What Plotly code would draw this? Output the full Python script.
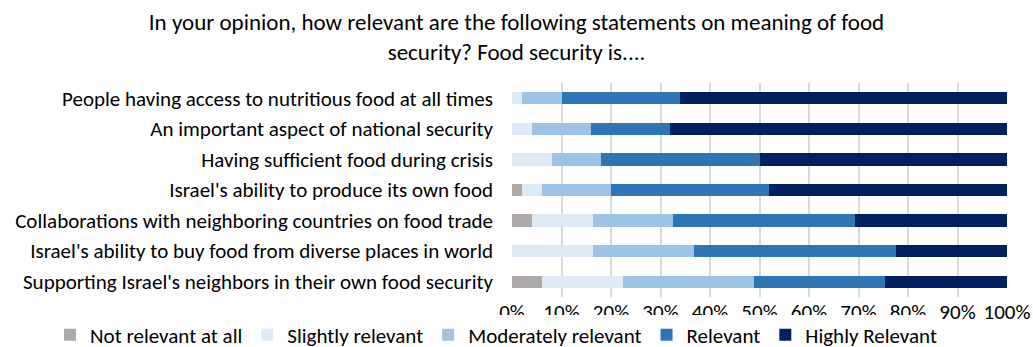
import plotly.graph_objects as go

# Survey statements (top to bottom) and share of responses per category (%)
statements = [
    "People having access to nutritious food at all times",
    "An important aspect of national security",
    "Having sufficient food during crisis",
    "Israel's ability to produce its own food",
    "Collaborations with neighboring countries on food trade",
    "Israel's ability to buy food from diverse places in world",
    "Supporting Israel's neighbors in their own food security",
]
not_relevant = [0, 0, 0, 2, 4.1, 0, 6.1]
slightly_relevant = [2, 4, 8, 4, 12.2, 16.3, 16.3]
moderately_relevant = [8, 12, 10, 14, 16.3, 20.4, 26.5]
relevant = [24, 16, 32, 32, 36.7, 40.8, 26.5]
highly_relevant = [66, 68, 50, 48, 30.6, 22.4, 24.5]

pct_ticks = [0, 10, 20, 30, 40, 50, 60, 70, 80, 90, 100]
pct_labels = [f"{v}%" for v in pct_ticks]

series = [
    ("Not relevant at all", not_relevant, "#ADA9A9"),
    ("Slightly relevant", slightly_relevant, "#DEEBF7"),
    ("Moderately relevant", moderately_relevant, "#9DC3E6"),
    ("Relevant", relevant, "#2E75B6"),
    ("Highly Relevant", highly_relevant, "#002060"),
]

font_family = "Carlito, Lato, Calibri, sans-serif"

fig = go.Figure()
for name, values, color in series:
    fig.add_trace(go.Bar(
        y=statements,
        x=values,
        name=name,
        orientation="h",
        marker=dict(color=color, line=dict(width=0)),
        width=0.4,
        hovertemplate="%{y}<br>" + name + ": %{x}%<extra></extra>",
    ))

W, H = 1033, 347
ML, MR, MT, MB = 512, 26, 83, 50
plot_w = W - ML - MR
plot_h = H - MT - MB

fig.update_layout(
    barmode="stack",
    width=W,
    height=H,
    paper_bgcolor="white",
    plot_bgcolor="white",
    margin=dict(l=ML, r=MR, t=MT, b=MB, autoexpand=False),
    font=dict(family=font_family, size=21, color="#000000"),
    title=dict(
        text="In your opinion, how relevant are the following statements on meaning of food<br>security? Food security is....",
        x=0.5,
        xanchor="center",
        xref="container",
        yref="container",
        y=1 - 30 / H,
        yanchor="top",
        font=dict(size=23, color="#000000"),
    ),
    xaxis=dict(
        range=[0, 100],
        tickmode="array",
        tickvals=pct_ticks,
        ticktext=pct_labels,
        showgrid=True,
        gridcolor="#D9D9D9",
        gridwidth=1.5,
        zeroline=False,
        showline=False,
        ticks="",
        tickfont=dict(size=21),
        fixedrange=True,
    ),
    yaxis=dict(
        autorange="reversed",
        tickmode="array",
        tickvals=statements,
        showgrid=False,
        showline=False,
        ticks="",
        ticklabelstandoff=18,
        tickfont=dict(size=21),
        fixedrange=True,
    ),
    # legend anchored left of the plot area so it can span the full width in one row
    legend=dict(
        orientation="h",
        x=(50 - ML) / plot_w,
        xanchor="left",
        y=-(335 - (H - MB)) / plot_h,
        yanchor="middle",
        font=dict(size=21),
        traceorder="normal",
        itemwidth=30,
    ),
)

fig.write_html("out.html")
